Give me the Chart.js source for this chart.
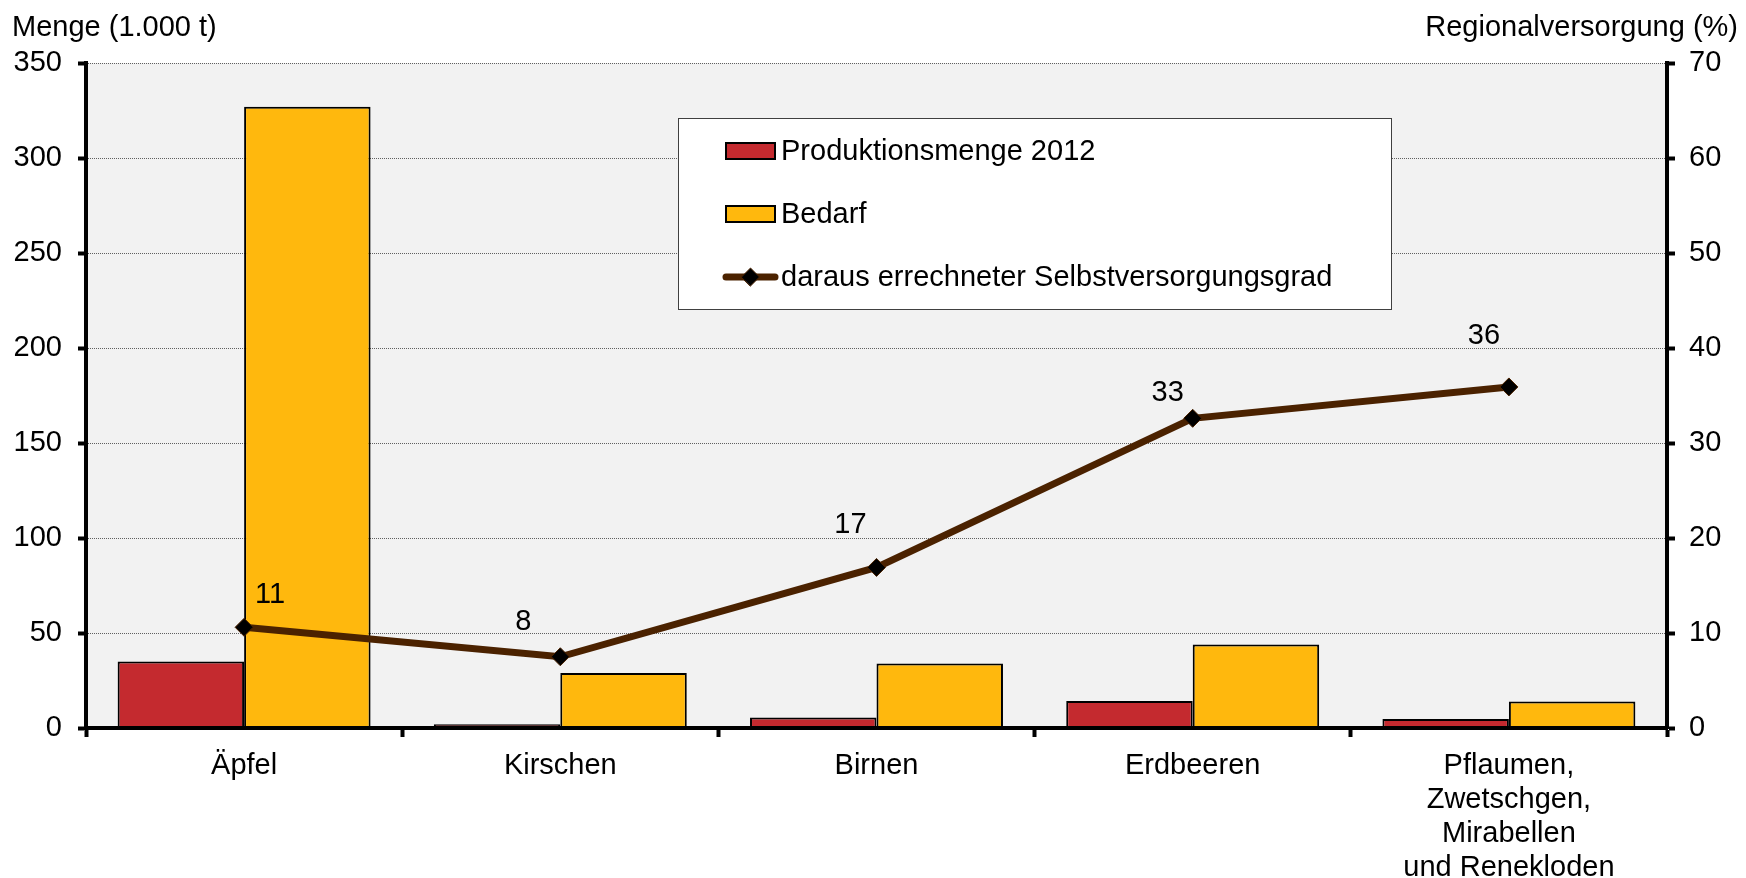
<!DOCTYPE html>
<html>
<head>
<meta charset="utf-8">
<script src="https://cdn.jsdelivr.net/npm/chart.js@4.4.1/dist/chart.umd.min.js"></script>
<style>
html,body{margin:0;padding:0;background:#ffffff;}
#wrap{width:1746px;height:878px;}
canvas{display:block;}
</style>
</head>
<body>
<div id="wrap"><canvas id="c" width="1746" height="878"></canvas></div>
<script>
// ---- data ----
const categories = ['Äpfel', 'Kirschen', 'Birnen', 'Erdbeeren', ['Pflaumen,', 'Zwetschgen,', 'Mirabellen', 'und Renekloden']];
const production2012 = [35, 2, 5.5, 14.2, 4.7];
const demand = [327, 29, 34, 44, 14];
const selfSufficiency = [10.6, 7.5, 16.9, 32.6, 35.9];
const selfSufficiencyLabels = ['11', '8', '17', '33', '36'];
const seriesNames = ['Produktionsmenge 2012', 'Bedarf', 'daraus errechneter Selbstversorgungsgrad'];
const leftAxisTitle = 'Menge (1.000 t)';
const rightAxisTitle = 'Regionalversorgung (%)';

// ---- styles ----
const FONT = "'Liberation Sans', Arial, Helvetica, sans-serif";
const FS = 29;
const RED = '#C42A2F';
const YELLOW = '#FFB80D';
const BROWN = '#4B2200';
const AXW = 4;
const labelOffsets = [[26, -32], [-37, -35], [-26, -42], [-25, -25], [-25, -51]];

Chart.defaults.font.family = FONT;
Chart.defaults.font.size = FS;
Chart.defaults.color = '#000';

const bgPlugin = {
  id: 'plotBg',
  beforeDraw(chart) {
    const {ctx, chartArea: a} = chart;
    ctx.save();
    ctx.fillStyle = '#F2F2F2';
    ctx.fillRect(a.left, a.top, a.right - a.left, a.bottom - a.top);
    ctx.restore();
  }
};

const pointLabelPlugin = {
  id: 'pointLabels',
  afterDatasetsDraw(chart) {
    const meta = chart.getDatasetMeta(2);
    const {ctx} = chart;
    ctx.save();
    ctx.font = FS + 'px ' + FONT;
    ctx.fillStyle = '#000';
    ctx.textAlign = 'center';
    ctx.textBaseline = 'middle';
    meta.data.forEach((pt, i) => {
      const o = labelOffsets[i];
      ctx.fillText(selfSufficiencyLabels[i], pt.x + o[0], pt.y + o[1]);
    });
    ctx.restore();
  }
};

const legendPlugin = {
  id: 'boxLegend',
  afterDraw(chart) {
    const {ctx} = chart;
    const bx = 678, by = 118, bw = 713, bh = 191;
    ctx.save();
    ctx.fillStyle = '#FFFFFF';
    ctx.fillRect(bx, by, bw, bh);
    ctx.strokeStyle = '#404040';
    ctx.lineWidth = 1;
    ctx.strokeRect(bx + 0.5, by + 0.5, bw, bh);
    const rows = [151, 214, 277];
    const sx = 726, sw = 49, sh = 16, tx = 781;
    const ds = chart.data.datasets;
    [0, 1].forEach(k => {
      const y = rows[k];
      ctx.fillStyle = ds[k].backgroundColor;
      ctx.fillRect(sx, y - sh / 2, sw, sh);
      ctx.strokeStyle = '#000';
      ctx.lineWidth = 2;
      ctx.strokeRect(sx, y - sh / 2, sw, sh);
    });
    const ly = rows[2];
    ctx.strokeStyle = ds[2].borderColor;
    ctx.lineWidth = 7;
    ctx.lineCap = 'round';
    ctx.beginPath();
    ctx.moveTo(sx, ly);
    ctx.lineTo(sx + sw, ly);
    ctx.stroke();
    const cx = sx + sw / 2, r = 9;
    ctx.fillStyle = '#000';
    ctx.strokeStyle = BROWN;
    ctx.lineWidth = 1;
    ctx.beginPath();
    ctx.moveTo(cx - r, ly); ctx.lineTo(cx, ly - r); ctx.lineTo(cx + r, ly); ctx.lineTo(cx, ly + r);
    ctx.closePath(); ctx.fill(); ctx.stroke();
    ctx.fillStyle = '#000';
    ctx.font = FS + 'px ' + FONT;
    ctx.textAlign = 'left';
    ctx.textBaseline = 'middle';
    ds.forEach((d, k) => ctx.fillText(d.label, tx, rows[k] + 1));
    ctx.textBaseline = 'alphabetic';
    ctx.textAlign = 'left';
    ctx.fillText(leftAxisTitle, 12, 36);
    ctx.textAlign = 'right';
    ctx.fillText(rightAxisTitle, 1738, 36);
    ctx.restore();
  }
};

new Chart(document.getElementById('c'), {
  data: {
    labels: categories,
    datasets: [
      {type: 'bar', label: seriesNames[0], data: production2012, yAxisID: 'y', order: 2,
       backgroundColor: RED, borderColor: '#000', borderWidth: 2,
       categoryPercentage: 0.8, barPercentage: 1.0},
      {type: 'bar', label: seriesNames[1], data: demand, yAxisID: 'y', order: 2,
       backgroundColor: YELLOW, borderColor: '#000', borderWidth: 2,
       categoryPercentage: 0.8, barPercentage: 1.0},
      {type: 'line', label: seriesNames[2], data: selfSufficiency, yAxisID: 'y1', order: 0,
       borderColor: BROWN, borderWidth: 7, tension: 0, fill: false,
       pointStyle: 'rectRot', pointRadius: 9, pointHoverRadius: 9,
       pointBackgroundColor: '#000', pointBorderColor: BROWN, pointBorderWidth: 1}
    ]
  },
  options: {
    responsive: false,
    animation: false,
    devicePixelRatio: 1,
    events: [],
    layout: {padding: {top: 63, left: 0, right: 0, bottom: 0}},
    plugins: {legend: {display: false}, tooltip: {enabled: false}},
    scales: {
      x: {
        type: 'category',
        offset: true,
        grid: {display: true, drawOnChartArea: false, drawTicks: true, tickLength: 9,
               tickColor: '#000', tickWidth: AXW, offset: true, color: '#000'},
        border: {color: '#000', width: AXW, z: 1},
        ticks: {padding: 12, color: '#000', font: {size: FS, lineHeight: 1.17},
                maxRotation: 0, minRotation: 0, autoSkip: false},
        afterFit(s) { s.height = 150; }
      },
      y: {
        position: 'left',
        min: 0, max: 350,
        ticks: {stepSize: 50, padding: 16, color: '#000', font: {size: FS}},
        grid: {color: '#606060', lineWidth: 1, borderDash: [1, 1], drawTicks: true, tickLength: 8,
               tickColor: '#000', tickWidth: AXW, tickBorderDash: []},
        border: {color: '#000', width: AXW, dash: [1, 1], z: 1},
        afterFit(s) { s.width = 86; }
      },
      y1: {
        position: 'right',
        min: 0, max: 70,
        ticks: {stepSize: 10, padding: 14, color: '#000', font: {size: FS}},
        grid: {drawOnChartArea: false, drawTicks: true, tickLength: 8, tickColor: '#000', tickWidth: AXW},
        border: {color: '#000', width: AXW, z: 1},
        afterFit(s) { s.width = 79; }
      }
    }
  },
  plugins: [bgPlugin, pointLabelPlugin, legendPlugin]
});
</script>
</body>
</html>
